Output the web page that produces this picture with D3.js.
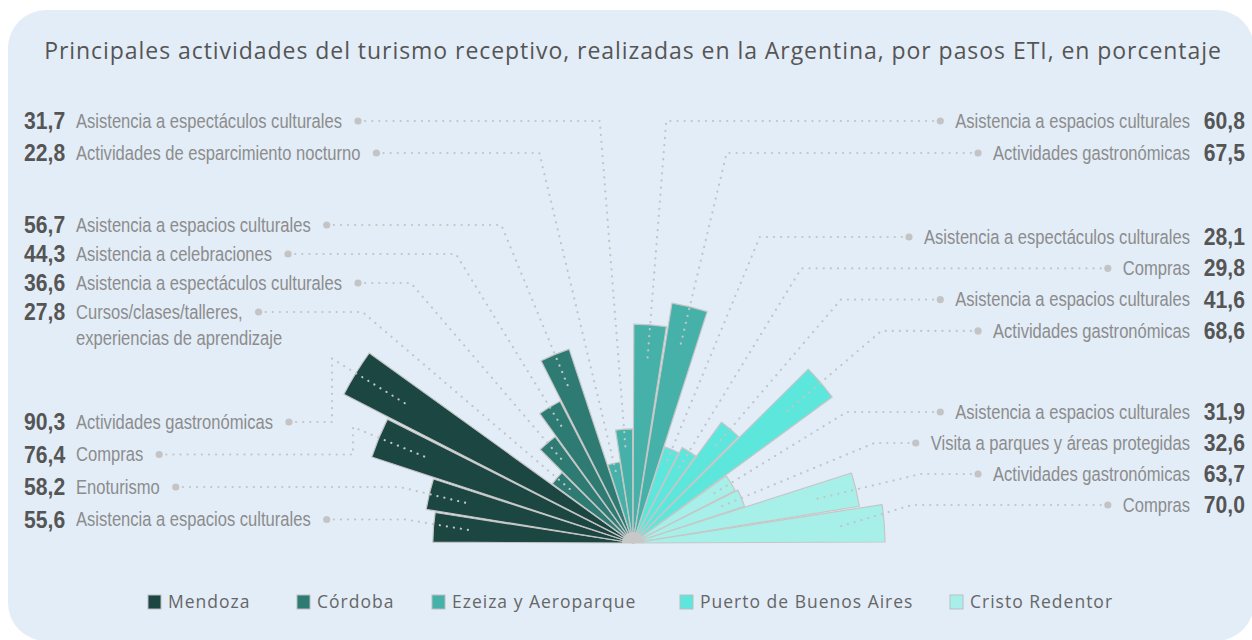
<!DOCTYPE html>
<html>
<head>
  <meta charset="utf-8">
  <title>Principales actividades del turismo receptivo</title>
  <script src="https://d3js.org/d3.v7.min.js"></script>
  <style>
    body { margin: 0; background: #fff; }
    .title { font: 23px "Open Sans", Lato, sans-serif; fill: #555; letter-spacing: 0.95px; }
    .lbl { font: 19.5px "Liberation Sans", Arial, sans-serif; fill: #8c8c8c; }
    .num { font: bold 23px "Liberation Sans", Arial, sans-serif; fill: #555; }
    .legend text { font: 17.5px "Open Sans", Lato, sans-serif; fill: #666; letter-spacing: 1px; }
    .leader { fill: none; stroke: #c4c4c4; stroke-width: 2.2; stroke-dasharray: 0.1 7; stroke-linecap: round; }
  </style>
</head>
<body>
<script>
  // Pasos (airports / border crossings) and their colours.
  const pasos = ["Mendoza", "Córdoba", "Ezeiza y Aeroparque", "Puerto de Buenos Aires", "Cristo Redentor"];
  const pasoColors = ["#1b4642", "#2e7b73", "#46b1a8", "#5de7dc", "#a7f0ea"];

  // Bars, in order from the left horizontal round to the right one.
  const barPaso = [0, 0, 0, 0, 1, 1, 1, 1, 2, 2, 2, 2, 3, 3, 3, 3, 4, 4, 4, 4];
  const barActividad = [
    "Asistencia a espacios culturales", "Enoturismo", "Compras", "Actividades gastronómicas",
    "Cursos/clases/talleres,|experiencias de aprendizaje", "Asistencia a espectáculos culturales", "Asistencia a celebraciones", "Asistencia a espacios culturales",
    "Actividades de esparcimiento nocturno", "Asistencia a espectáculos culturales", "Asistencia a espacios culturales", "Actividades gastronómicas",
    "Asistencia a espectáculos culturales", "Compras", "Asistencia a espacios culturales", "Actividades gastronómicas",
    "Asistencia a espacios culturales", "Visita a parques y áreas protegidas", "Actividades gastronómicas", "Compras"
  ];
  const barValor = [55.6, 58.2, 76.4, 90.3, 27.8, 36.6, 44.3, 56.7, 22.8, 31.7, 60.8, 67.5,
                    28.1, 29.8, 41.6, 68.6, 31.9, 32.6, 63.7, 70.0];

  const width = 1252, height = 640;
  const cx = 633, cy = 543;
  const narrow = 0.85, narrowNum = 0.92;   // condensed look for the side labels

  const svg = d3.select("body").append("svg")
      .attr("width", width)
      .attr("height", height);

  // background panel
  svg.append("rect")
      .attr("x", 8).attr("y", 10)
      .attr("width", 1246).attr("height", 631)
      .attr("rx", 38)
      .attr("fill", "#e3edf8");

  svg.append("text")
      .attr("class", "title")
      .attr("x", cx).attr("y", 59)
      .attr("text-anchor", "middle")
      .text("Principales actividades del turismo receptivo, realizadas en la Argentina, por pasos ETI, en porcentaje");

  const r = d3.scaleLinear().domain([0, 100]).range([0, 360]);
  const ang = d3.scaleBand().domain(d3.range(barValor.length)).range([-Math.PI / 2, Math.PI / 2]);

  const bars = barValor.map((v, i) => ({
    i, v, paso: barPaso[i], act: barActividad[i],
    a0: ang(i), a1: ang(i) + ang.bandwidth(), mid: ang(i) + ang.bandwidth() / 2
  }));

  const arc = d3.arc()
      .innerRadius(0)
      .outerRadius(d => r(d.v))
      .startAngle(d => d.a0)
      .endAngle(d => d.a1)
      .padAngle(0.008);

  const chart = svg.append("g").attr("transform", `translate(${cx},${cy})`);

  chart.selectAll("path.bar")
    .data(bars)
    .enter().append("path")
      .attr("class", "bar")
      .attr("d", arc)
      .attr("fill", d => pasoColors[d.paso])
      .attr("stroke", "#c6c6c6")
      .attr("stroke-width", 1.2)
      .attr("stroke-linejoin", "round");

  chart.append("path")
      .attr("d", d3.arc().innerRadius(0).outerRadius(11).startAngle(-Math.PI / 2).endAngle(Math.PI / 2))
      .attr("fill", "#c8c8c8");

  // label rows: left side from the vertical down, right side likewise
  const left = bars.filter(d => d.mid < 0).sort((a, b) => b.mid - a.mid);
  const right = bars.filter(d => d.mid > 0).sort((a, b) => a.mid - b.mid);

  // row layout (group start y, step)
  const rowLayout = [
    { start: 121, step: 32 }, { start: 225, step: 29 }, { start: 422, step: 32.5 },
    { start: 121, step: 32 }, { start: 237, step: 31.3 }, { start: 412, step: 31 }
  ];
  function assignRows(list, layoutOffset) {
    const groups = d3.groups(list, d => d.paso);
    groups.forEach((g, gi) => {
      const lay = rowLayout[layoutOffset + gi];
      g[1].forEach((d, k) => { d.ly = lay.start + k * lay.step; });
    });
  }
  assignRows(left, 0);
  assignRows(right, 3);

  const pt = (rad, a) => [cx + rad * Math.sin(a), cy - rad * Math.cos(a)];
  const fmt = v => d3.format(".1f")(v).replace(".", ",");

  const labels = svg.append("g");
  const leaders = svg.append("g");

  function drawLabel(d, side) {
    const lines = d.act.split("|");
    let dotX;
    if (side < 0) {
      labels.append("g").attr("transform", `translate(24,${d.ly}) scale(${narrowNum},1)`)
        .append("text").attr("class", "num").attr("dy", "0.35em").text(fmt(d.v));
      const t = labels.append("g").attr("transform", `translate(76,${d.ly}) scale(${narrow},1)`)
        .append("text").attr("class", "lbl");
      lines.forEach((s, k) => t.append("tspan").attr("x", 0).attr("dy", k ? 26 : "0.35em").text(s));
      const w = t.select("tspan").node().getComputedTextLength() * narrow;
      dotX = 76 + w + 16;
    } else {
      labels.append("g").attr("transform", `translate(1245,${d.ly}) scale(${narrowNum},1)`)
        .append("text").attr("class", "num").attr("dy", "0.35em").attr("text-anchor", "end").text(fmt(d.v));
      const t = labels.append("g").attr("transform", `translate(1190,${d.ly}) scale(${narrow},1)`)
        .append("text").attr("class", "lbl").attr("dy", "0.35em").attr("text-anchor", "end").text(d.act);
      const w = t.node().getComputedTextLength() * narrow;
      dotX = 1190 - w - 15;
    }
    labels.append("circle").attr("cx", dotX).attr("cy", d.ly).attr("r", 3.6).attr("fill", "#c4c4c4");

    // leader: horizontal from the dot, then radially into the bar
    const rt = r(d.v);
    const E = pt(rt - Math.max(12, rt * 0.18), d.mid);
    const ri = (cy - d.ly) / Math.cos(d.mid);
    const xi = cx + ri * Math.sin(d.mid);
    let pts;
    if (ri >= rt + 25 && (side < 0 ? xi > dotX + 10 : xi < dotX - 10)) {
      pts = [[dotX, d.ly], [xi, d.ly], E];
    } else {
      const P = pt(rt + 28, d.mid);
      pts = P[1] < d.ly ? [[dotX, d.ly], [P[0], d.ly], P, E] : [[dotX, d.ly], [P[0], d.ly], E];
    }
    leaders.append("path").attr("class", "leader").attr("d", d3.line()(pts));
  }
  left.forEach(d => drawLabel(d, -1));
  right.forEach(d => drawLabel(d, 1));

  // legend
  const legendX = [148, 297, 432, 680, 950];
  const legend = svg.append("g").attr("class", "legend");
  pasos.forEach((p, i) => {
    const g = legend.append("g").attr("transform", `translate(${legendX[i]},595)`);
    g.append("rect").attr("width", 13).attr("height", 14)
      .attr("fill", pasoColors[i]).attr("stroke", "#bdbdbd").attr("stroke-width", 1);
    g.append("text").attr("x", 20).attr("y", 7).attr("dy", "0.35em").text(p);
  });
</script>
</body>
</html>
